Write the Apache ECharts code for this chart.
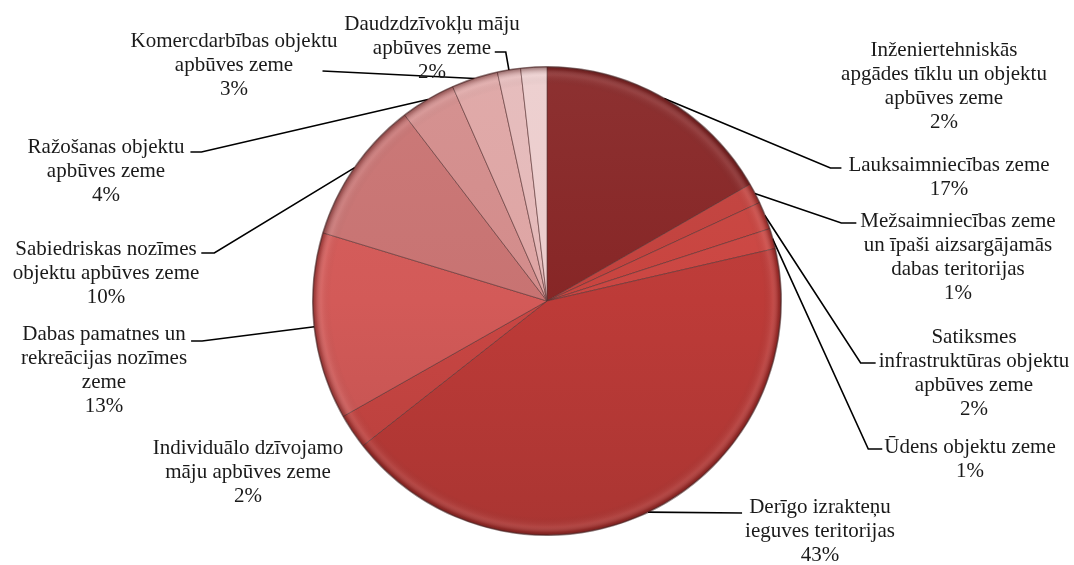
<!DOCTYPE html>
<html lang="lv">
<head>
    <meta charset="UTF-8">
    <title>Zemes izmantošana</title>
    <script src="https://cdn.jsdelivr.net/npm/echarts@6/dist/echarts.min.js"></script>
    <style>
        body {
            margin: 0;
            padding: 0;
            background-color: #ffffff;
        }
        #chart {
            width: 1074px;
            height: 565px;
        }
    </style>
</head>
<body>
    <div id="chart"></div>

    <script>
        // dati: pulksteņrādītāja virzienā no augšas
        const categories = [
            'Lauksaimniecības zeme',
            'Mežsaimniecības zeme\nun īpaši aizsargājamās\ndabas teritorijas',
            'Satiksmes\ninfrastruktūras objektu\napbūves zeme',
            'Ūdens objektu zeme',
            'Derīgo izrakteņu\nieguves teritorijas',
            'Individuālo dzīvojamo\nmāju apbūves zeme',
            'Dabas pamatnes un\nrekreācijas nozīmes\nzeme',
            'Sabiedriskas nozīmes\nobjektu apbūves zeme',
            'Ražošanas objektu\napbūves zeme',
            'Komercdarbības objektu\napbūves zeme',
            'Daudzdzīvokļu māju\napbūves zeme',
            'Inženiertehniskās\napgādes tīklu un objektu\napbūves zeme'
        ];
        const shares = [16.7, 1.4, 1.9, 1.4, 43.0, 2.4, 12.9, 9.9, 3.8, 3.2, 1.6, 1.8];

        // krāsas
        const palette = [
            '#872626', '#c2413d', '#c8443f', '#cb4642', '#bd3b38', '#c94643',
            '#d35a58', '#c87372', '#d38c8b', '#dea5a4', '#e5b9b9', '#eccdcd'
        ];

        // etiķešu novietojums (centrs) un līniju piesaiste
        const labelPos = [
            [949, 177], [958, 257], [974, 373], [970, 459], [820, 531], [248, 472],
            [104, 370], [106, 273], [106, 171], [234, 65], [432, 48], [944, 86]
        ];
        const attach = [
            { side: 'left', dy: -9, gap: 7, tick: 11 },
            { side: 'left', dy: -34, gap: 4, tick: 15 },
            { side: 'left', dy: -10, gap: 3, tick: 15 },
            { side: 'left', dy: -10, gap: 2, tick: 14 },
            { side: 'left', dy: -18, gap: 3, tick: 0 },
            null,
            { side: 'right', dy: -29, gap: 4, tick: 11 },
            { side: 'right', dy: -20, gap: 2, tick: 13 },
            { side: 'right', dy: -19, gap: 6, tick: 11 },
            { side: 'right', dy: 6, gap: -15, tick: 0 },
            { side: 'right', dy: 4, gap: -25, tick: 11 },
            null
        ];

        const cx = 547, cy = 301, r = 234;

        function shade(hex, k) {
            const n = parseInt(hex.slice(1), 16);
            let c = [(n >> 16) & 255, (n >> 8) & 255, n & 255];
            c = c.map(v => k >= 0 ? Math.round(v + (255 - v) * k) : Math.round(v * (1 + k)));
            return 'rgb(' + c.join(',') + ')';
        }

        const chart = echarts.init(document.getElementById('chart'), null, { renderer: 'canvas' });

        const pieData = shares.map((v, i) => ({
            name: categories[i],
            value: v,
            itemStyle: {
                color: new echarts.graphic.LinearGradient(0, cy - r, 0, cy + r, [
                    { offset: 0, color: shade(palette[i], 0.05) },
                    { offset: 0.5, color: palette[i] },
                    { offset: 1, color: shade(palette[i], -0.1) }
                ], true)
            },
            labelLine: { show: attach[i] !== null }
        }));

        const option = {
            animation: false,
            series: [
                {
                    type: 'pie',
                    center: [cx, cy],
                    radius: r,
                    startAngle: 90,
                    clockwise: true,
                    avoidLabelOverlap: false,
                    minShowLabelAngle: 0,
                    data: pieData,
                    itemStyle: {
                        borderColor: 'rgba(90,50,50,0.6)',
                        borderWidth: 1
                    },
                    emphasis: { disabled: true },
                    label: {
                        show: true,
                        position: 'outside',
                        fontFamily: '"Liberation Serif", "Times New Roman", serif',
                        fontSize: 21,
                        lineHeight: 24,
                        color: '#1a1a1a',
                        align: 'center',
                        formatter: p => categories[p.dataIndex] + '\n' + Math.round(p.percent) + '%'
                    },
                    labelLine: {
                        show: true,
                        smooth: false,
                        lineStyle: { color: '#000', width: 1.6 }
                    },
                    labelLayout: function (p) {
                        const i = p.dataIndex;
                        const pos = labelPos[i];
                        const a = attach[i];
                        const out = { x: pos[0], y: pos[1], align: 'center', verticalAlign: 'middle' };
                        if (a && p.labelLinePoints) {
                            const sx = a.side === 'left' ? -1 : 1;
                            const endX = pos[0] + sx * (p.labelRect.width / 2 + a.gap);
                            const startX = endX + sx * a.tick;
                            const y = pos[1] + a.dy;
                            out.labelLinePoints = [p.labelLinePoints[0], [startX, y], [endX, y]];
                        }
                        return out;
                    }
                },
                {
                    // mala
                    type: 'pie',
                    center: [cx, cy],
                    radius: [r - 18, r + 1],
                    silent: true,
                    label: { show: false },
                    labelLine: { show: false },
                    data: [{
                        value: 1,
                        itemStyle: {
                            color: new echarts.graphic.RadialGradient(cx, cy, r + 1, [
                                { offset: 0, color: 'rgba(0,0,0,0)' },
                                { offset: (r - 18) / (r + 1), color: 'rgba(0,0,0,0)' },
                                { offset: 0.96, color: 'rgba(255,255,255,0.08)' },
                                { offset: 0.985, color: 'rgba(60,10,10,0.25)' },
                                { offset: 1, color: 'rgba(40,0,0,0.5)' }
                            ], true)
                        }
                    }]
                }
            ]
        };
        chart.setOption(option);

        window.addEventListener('resize', () => {
            chart.resize();
        });
    </script>
</body>
</html>
